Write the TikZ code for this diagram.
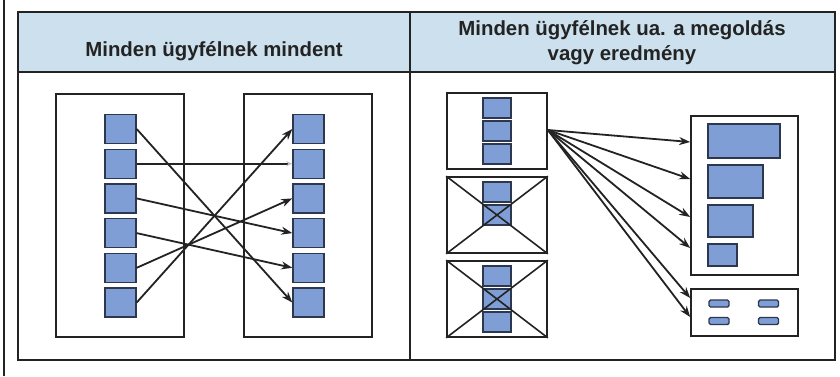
\documentclass[tikz,border=0pt]{standalone}
\usepackage{fontspec}
\setmainfont{Liberation Sans}
\usetikzlibrary{arrows.meta}
\definecolor{hdr}{RGB}{204,225,237}
\definecolor{sq}{RGB}{128,158,214}
\definecolor{sqedge}{RGB}{45,55,78}
\definecolor{ink}{RGB}{35,35,35}

\begin{document}
\begin{tikzpicture}[x=1pt,y=-1pt,
  frame/.style={draw=ink, line width=2pt},
  panel/.style={draw=ink, line width=1.7pt, inner sep=0pt},
  cell/.style={draw=sqedge, fill=sq, line width=1.4pt, inner sep=0pt},
  bigcell/.style={cell, minimum width=31pt, minimum height=29pt},
  midcell/.style={cell, minimum width=28pt, minimum height=20pt},
  chip/.style={cell, rounded corners=1.5pt, minimum width=20pt, minimum height=7pt},
  link/.style={draw=ink, line width=1.8pt, -{Stealth[length=11pt,width=8pt]}},
  cross/.style={draw=ink, line width=1.6pt},
  hd/.style={font=\bfseries\fontsize{20.4}{25}\selectfont, text=ink, align=center}
]
\useasboundingbox (0,0) rectangle (840,376);
\fill[white] (0,0) rectangle (840,376);

% page edge line and table frame
\draw[ink, line width=1.4pt] (4,0) -- (4,376);
\fill[hdr] (18,12) rectangle (835,72);
\draw[frame] (18,12) rectangle (835,360);
\draw[frame] (18,72) -- (835,72);
\draw[frame] (410,12) -- (410,360);

% column headings
\node[hd, anchor=base] (h1) at (214,56) {Minden ügyfélnek mindent};
\node[hd, anchor=base] (h2) at (622,60) {Minden ügyfélnek ua. a megoldás\\vagy eredmény};

% ---------- left column: everything for every client ----------
\node[panel, minimum width=128pt, minimum height=243pt] (pl) at (120,215.5) {};
\node[panel, minimum width=128pt, minimum height=243pt] (pr) at (308,215.5) {};
\foreach \i in {1,...,6} {
  \node[bigcell] (L\i) at (120.5,{129+34.7*(\i-1)}) {};
  \node[bigcell] (R\i) at (308.5,{129+34.7*(\i-1)}) {};
}
\draw[link] (L1.east) -- (R6.west);
\draw[draw=ink, line width=1.9pt, -{Stealth[length=6pt,width=5pt,color=black!25]}] (L2.east) -- (R2.west);
\draw[link] (L3.east) -- (R4.west);
\draw[link] (L4.east) -- (R5.west);
\draw[link] (L5.east) -- (R3.west);
\draw[link] (L6.east) -- (R1.west);

% ---------- right column: same solution for every client ----------
\node[panel, minimum width=100pt, minimum height=76pt] (b1) at (497,131) {};
\node[panel, minimum width=100pt, minimum height=76pt] (b2) at (497,215) {};
\node[panel, minimum width=100pt, minimum height=76pt] (b3) at (497,299) {};
\node[midcell] (a1) at (497,108) {};
\node[midcell] (a2) at (497,131) {};
\node[midcell] (a3) at (497,154) {};
\node[midcell] (c1) at (497,192) {};
\node[midcell] (c2) at (497,215) {};
\node[midcell] (d1) at (497,276) {};
\node[midcell] (d2) at (497,299) {};
\node[midcell] (d3) at (497,322) {};
\draw[cross] (b2.north west) -- (b2.south east) (b2.north east) -- (b2.south west);
\draw[cross] (b3.north west) -- (b3.south east) (b3.north east) -- (b3.south west);

\node[panel, minimum width=107pt, minimum height=159pt] (big) at (744.5,195.5) {};
\node[cell, minimum width=72pt, minimum height=34pt] (r1) at (744,141) {};
\node[cell, minimum width=55pt, minimum height=33pt] (r2) at (735.5,181.5) {};
\node[cell, minimum width=45pt, minimum height=32pt] (r3) at (730.5,221) {};
\node[cell, minimum width=29pt, minimum height=22pt] (r4) at (722.5,255) {};

\node[panel, minimum width=107pt, minimum height=47pt] (small) at (744.5,312.5) {};
\node[chip] (s1) at (719,303.5) {};
\node[chip] (s2) at (768.5,303.5) {};
\node[chip] (s3) at (719,321) {};
\node[chip] (s4) at (768.5,321) {};

\coordinate (src) at ([yshift=1pt]b1.east);
\coordinate (t1) at (big.west |- 0,142);
\coordinate (t2) at (big.west |- 0,179);
\coordinate (t3) at (big.west |- 0,217);
\coordinate (t4) at (big.west |- 0,248);
\coordinate (t5) at (small.west |- 0,298);
\coordinate (t6) at (small.west |- 0,317);
\foreach \t in {t1,t2,t3,t4,t5,t6}
  \draw[link] (src) -- (\t);
\end{tikzpicture}
\end{document}
